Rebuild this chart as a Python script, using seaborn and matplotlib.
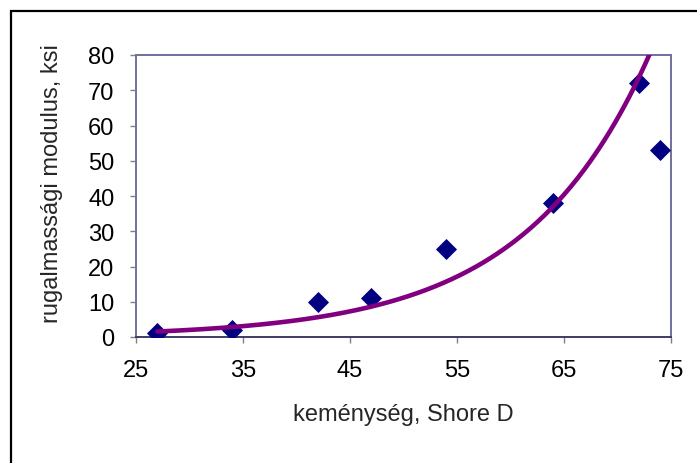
import numpy as np
import pandas as pd
import matplotlib
matplotlib.use("Agg")
import matplotlib.pyplot as plt
from matplotlib.patches import Rectangle
import seaborn as sns

hardness = [27, 34, 42, 47, 54, 64, 72, 74]
modulus = [1, 2, 10, 11, 25, 38, 72, 53]
x_ticks = [25, 35, 45, 55, 65, 75]
y_ticks = [0, 10, 20, 30, 40, 50, 60, 70, 80]
x_label = "keménység, Shore D"
y_label = "rugalmassági modulus, ksi"

sns.set_theme(style="white")
plt.rcParams['font.family'] = ['Liberation Sans', 'DejaVu Sans']

df = pd.DataFrame({"x": hardness, "y": modulus})

# exponential trend line (least squares on log y), like Excel
b, lna = np.polyfit(df["x"], np.log(df["y"]), 1)
xs = np.linspace(min(hardness), max(hardness), 300)
trend = pd.DataFrame({"x": xs, "y": np.exp(lna) * np.exp(b * xs)})

fig = plt.figure(figsize=(6.97, 4.64), dpi=100)
ax = fig.add_axes([136/697, 1-338/464, (671-136)/697, (338-56)/464])

sns.scatterplot(data=df, x="x", y="y", ax=ax, marker="D", s=115,
                color="#000080", edgecolor="#000080", linewidth=0, zorder=3)
sns.lineplot(data=trend, x="x", y="y", ax=ax, color="#800080",
             linewidth=3.3, zorder=4)

ax.set_xlim(25, 75)
ax.set_ylim(0, 80)
ax.set_xticks(x_ticks)
ax.set_yticks(y_ticks)
ax.tick_params(axis="both", which="major", direction="out", length=4.5,
               width=1, color="#808080", labelsize=17, labelcolor="black",
               bottom=True, left=True)
ax.tick_params(axis="x", pad=11)
ax.tick_params(axis="y", pad=11)
ax.set_xlabel(x_label, fontsize=17, labelpad=16)
ax.set_ylabel(y_label, fontsize=17, labelpad=16)
ax.yaxis.set_label_coords(-(136-52)/535, (338-184)/282)
ax.yaxis.label.set_va("center")

for side in ["left", "top", "right"]:
    ax.spines[side].set_color("#7070A0")
    ax.spines[side].set_linewidth(1.4)
ax.spines["bottom"].set_color("#3C3C68")
ax.spines["bottom"].set_linewidth(1.4)

fig.patches.append(Rectangle((11/697, -0.1), 1.2, 1.1 - 12/464,
                             transform=fig.transFigure, fill=False,
                             edgecolor="black", linewidth=1.6, zorder=10))

fig.savefig("out.png", dpi=100, facecolor="white")
